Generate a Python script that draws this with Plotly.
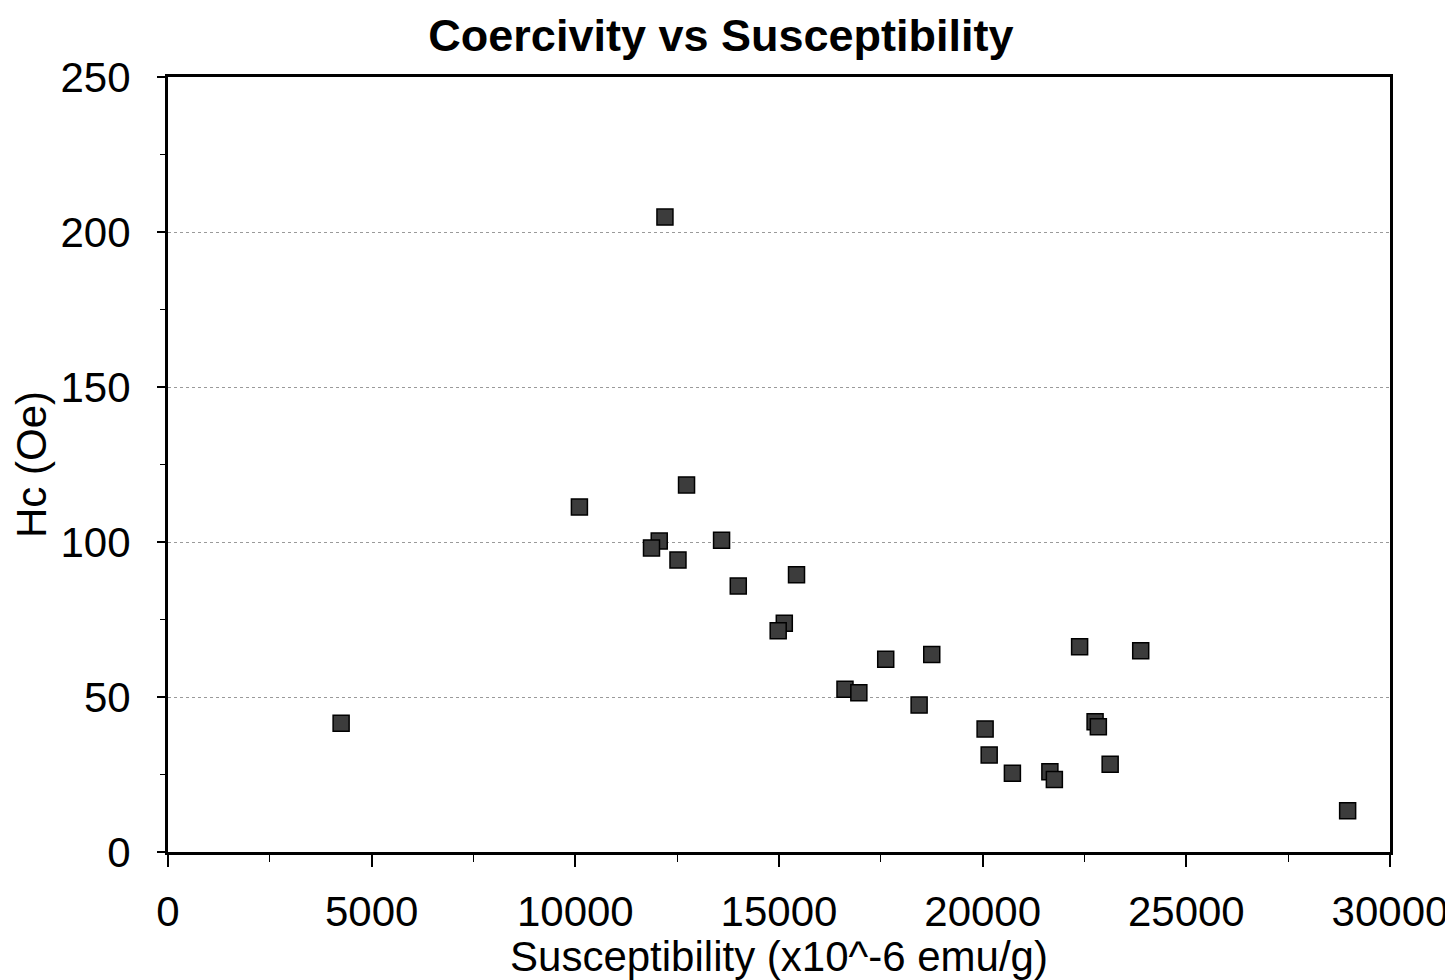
import plotly.graph_objects as go

susceptibility = [4250, 10100, 12200, 12730, 12060, 11870, 12520, 13590, 14000,
                  15430, 15130, 14980, 17620, 18750, 16620, 16960, 18440, 22380,
                  20060, 20160, 20730, 21650, 21760, 22760, 22840, 23130, 23880, 28960]
coercivity = [41.5, 111.3, 204.8, 118.4, 100.3, 98.1, 94.2, 100.6, 85.8,
              89.4, 73.8, 71.4, 62.2, 63.7, 52.5, 51.4, 47.4, 66.2,
              39.7, 31.3, 25.4, 25.9, 23.4, 42.0, 40.4, 28.3, 64.9, 13.3]

x_ticks = [0, 5000, 10000, 15000, 20000, 25000, 30000]
x_ticklabels = ["0", "5000", "10000", "15000", "20000", "25000", "30000"]
y_ticks = [0, 50, 100, 150, 200, 250]
y_ticklabels = ["0", "50", "100", "150", "200", "250"]

title_text = "Coercivity vs Susceptibility"
x_title = "Susceptibility (x10^-6 emu/g)"
y_title = "Hc (Oe)"

font_family = "Liberation Sans, Arial, sans-serif"

fig = go.Figure()
fig.add_trace(go.Scatter(
    x=susceptibility, y=coercivity, mode="markers",
    marker=dict(symbol="square", size=16, color="#3c3c3c",
                line=dict(color="#000000", width=1.5)),
    showlegend=False,
))

fig.update_layout(
    width=1445, height=972,
    paper_bgcolor="white", plot_bgcolor="white",
    margin=dict(l=160, r=63, t=69, b=128, autoexpand=False),
    title=dict(text="<b>" + title_text + "</b>", x=0.4934, xanchor="center",
               y=0.972, yanchor="middle",
               font=dict(family=font_family, size=45, color="black")),
    font=dict(family=font_family, color="black"),
)

fig.update_xaxes(
    range=[0, 30000], tickvals=x_ticks, ticktext=x_ticklabels,
    automargin=False,
    showgrid=False, zeroline=False,
    showline=True, linecolor="black", linewidth=3, mirror=True,
    ticks="outside", ticklen=12, tickwidth=1.5, tickcolor="black",
    minor=dict(tickvals=[2500, 7500, 12500, 17500, 22500, 27500], ticks="outside",
               ticklen=7, tickwidth=1, tickcolor="black"),
    tickfont=dict(size=42, family=font_family, color="black"),
    ticklabelstandoff=9,
    title=dict(text=x_title, font=dict(size=42, family=font_family, color="black"),
               standoff=2),
)

fig.update_yaxes(
    range=[0, 250], tickvals=y_ticks, ticktext=y_ticklabels,
    automargin=False,
    showgrid=True, gridcolor="#9a9a9a", gridwidth=1, griddash="dot",
    zeroline=False,
    showline=True, linecolor="black", linewidth=3, mirror=True,
    ticks="outside", ticklen=8, tickwidth=1.5, tickcolor="black",
    minor=dict(tickvals=[25, 75, 125, 175, 225], ticks="outside",
               ticklen=5, tickwidth=1, tickcolor="black", showgrid=False),
    tickfont=dict(size=42, family=font_family, color="black"),
    ticklabelstandoff=18,
    title=dict(text=y_title, font=dict(size=42, family=font_family, color="black"),
               standoff=6),
)

fig.write_html("out.html")
